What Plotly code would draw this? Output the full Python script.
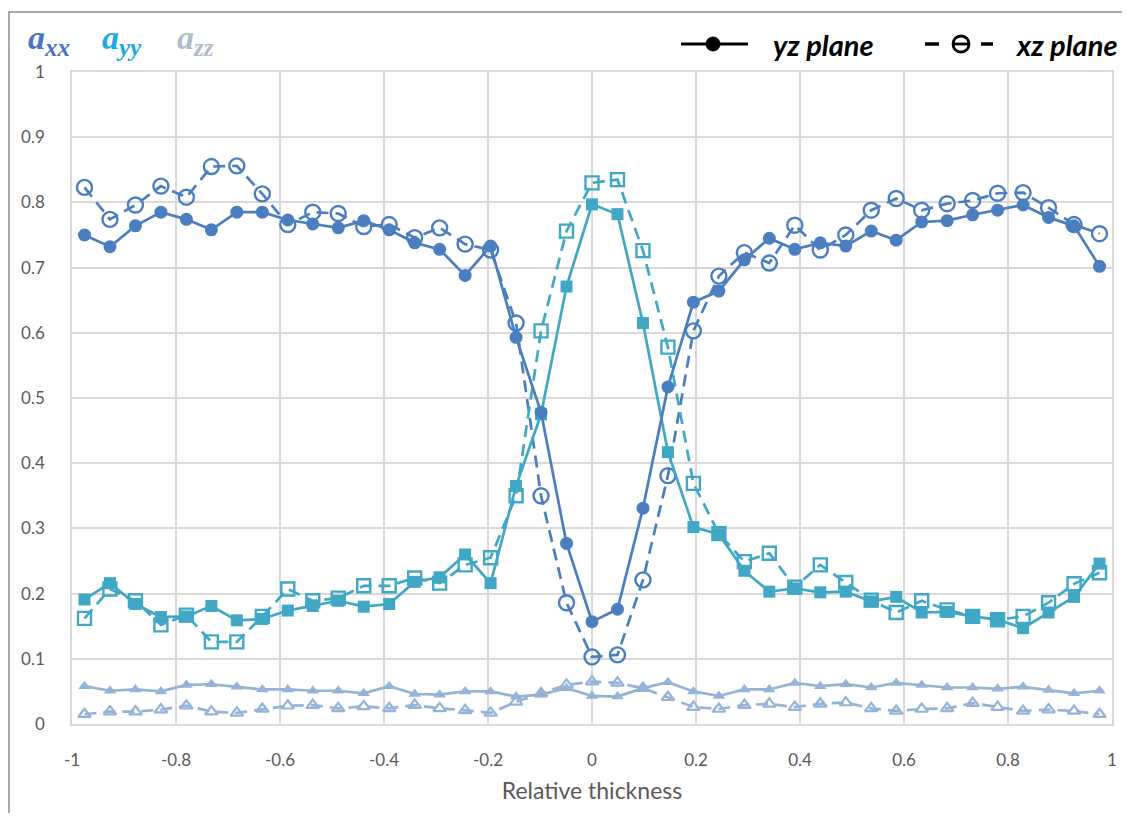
import plotly.graph_objects as go

# ---------------- data ----------------
x_pos = [-0.976, -0.927, -0.878, -0.829, -0.780, -0.732, -0.683, -0.634, -0.585, -0.537,
         -0.488, -0.439, -0.390, -0.341, -0.293, -0.244, -0.195, -0.146, -0.098, -0.049,
         0.0,
         0.049, 0.098, 0.146, 0.195, 0.244, 0.293, 0.341, 0.390, 0.439, 0.488,
         0.537, 0.585, 0.634, 0.683, 0.732, 0.780, 0.829, 0.878, 0.927, 0.976]

axx_yz = [0.750, 0.732, 0.764, 0.785, 0.774, 0.758, 0.785, 0.785, 0.773, 0.767,
          0.761, 0.772, 0.758, 0.738, 0.728, 0.688, 0.733, 0.593, 0.478, 0.277,
          0.157,
          0.176, 0.331, 0.517, 0.647, 0.664, 0.712, 0.745, 0.728, 0.738, 0.733,
          0.756, 0.742, 0.770, 0.772, 0.781, 0.788, 0.796, 0.777, 0.764, 0.702]
axx_xz = [0.823, 0.774, 0.796, 0.825, 0.808, 0.855, 0.856, 0.813, 0.766, 0.785,
          0.783, 0.763, 0.766, 0.746, 0.761, 0.736, 0.727, 0.615, 0.350, 0.186,
          0.103,
          0.106, 0.221, 0.381, 0.603, 0.687, 0.723, 0.707, 0.765, 0.727, 0.750,
          0.788, 0.806, 0.788, 0.798, 0.803, 0.814, 0.815, 0.792, 0.766, 0.752]
ayy_yz = [0.191, 0.216, 0.184, 0.164, 0.165, 0.181, 0.159, 0.161, 0.174, 0.181,
          0.189, 0.180, 0.184, 0.218, 0.225, 0.260, 0.216, 0.365, 0.475, 0.671,
          0.797,
          0.782, 0.615, 0.417, 0.302, 0.291, 0.235, 0.203, 0.208, 0.202, 0.203,
          0.188, 0.195, 0.171, 0.172, 0.165, 0.160, 0.147, 0.171, 0.195, 0.246]
ayy_xz = [0.162, 0.207, 0.189, 0.152, 0.167, 0.126, 0.126, 0.165, 0.207, 0.189,
          0.193, 0.212, 0.212, 0.224, 0.216, 0.244, 0.255, 0.350, 0.603, 0.756,
          0.830,
          0.835, 0.726, 0.578, 0.369, 0.292, 0.249, 0.262, 0.210, 0.244, 0.217,
          0.190, 0.171, 0.189, 0.175, 0.165, 0.160, 0.165, 0.186, 0.215, 0.232]
azz_yz = [0.058, 0.051, 0.053, 0.050, 0.060, 0.061, 0.057, 0.053, 0.053, 0.051,
          0.051, 0.047, 0.058, 0.046, 0.045, 0.050, 0.050, 0.042, 0.045, 0.055,
          0.043,
          0.042, 0.055, 0.064, 0.050, 0.043, 0.053, 0.053, 0.063, 0.058, 0.061,
          0.056, 0.063, 0.060, 0.056, 0.056, 0.054, 0.057, 0.052, 0.047, 0.051]
azz_xz = [0.015, 0.019, 0.019, 0.022, 0.028, 0.019, 0.017, 0.023, 0.028, 0.029,
          0.024, 0.027, 0.024, 0.029, 0.024, 0.021, 0.017, 0.034, 0.047, 0.060,
          0.065,
          0.063, 0.055, 0.041, 0.026, 0.023, 0.029, 0.031, 0.026, 0.031, 0.033,
          0.024, 0.020, 0.023, 0.024, 0.032, 0.026, 0.020, 0.022, 0.020, 0.015]

x_ticks = [-1, -0.8, -0.6, -0.4, -0.2, 0, 0.2, 0.4, 0.6, 0.8, 1]
y_ticks = [0, 0.1, 0.2, 0.3, 0.4, 0.5, 0.6, 0.7, 0.8, 0.9, 1]

# ---------------- style ----------------
C_XX = "#4a7ebf"
C_YY = "#40a8c4"
C_ZZ = "#95b3d7"
DASH = "12px,7px"
OFF = 8                      # page body margin
W, H = 1130 - OFF, 821 - 2 * OFF
L, R, T, B = 64, 18, 64, 89
PW, PH = W - L - R, H - T - B


def px(x):                    # screen px -> paper
    return (x - OFF - L) / PW


def py(y):
    return (H - B - (y - OFF)) / PH


fig = go.Figure()

series = [
    (axx_xz, C_XX, DASH, "circle-open", 15, 2.4),
    (ayy_xz, C_YY, DASH, "square-open", 13, 2.4),
    (azz_xz, C_ZZ, DASH, "triangle-up-open", 11, 2.2),
    (azz_yz, C_ZZ, "solid", "triangle-up", 11, 0),
    (ayy_yz, C_YY, "solid", "square", 12, 0),
    (axx_yz, C_XX, "solid", "circle", 13, 0),
]
for yv, col, dash, sym, size, mlw in series:
    fig.add_trace(go.Scatter(
        x=x_pos, y=yv, mode="lines+markers",
        line=dict(color=col, width=2.7, dash=dash),
        marker=dict(symbol=sym, size=size, color=col,
                    line=dict(color=col, width=mlw)),
        showlegend=False, cliponaxis=False,
    ))

tick_font = dict(family="Lato, Carlito, sans-serif", size=17, color="#595959")
fig.update_layout(
    width=W, height=H,
    margin=dict(l=L, r=R, t=T, b=B, pad=0),
    paper_bgcolor="white", plot_bgcolor="white",
    xaxis=dict(range=[-1, 1], tickvals=x_ticks, ticktext=[f"{v:g}" for v in x_ticks],
               showgrid=True, gridcolor="#d9d9d9", gridwidth=1.5,
               zeroline=False, showline=True, linecolor="#d9d9d9", linewidth=1.5,
               mirror=True, ticks="", tickfont=tick_font, ticklabelstandoff=20,
               title=dict(text="Relative thickness",
                          font=dict(family="Lato, Carlito, sans-serif", size=23, color="#595959"),
                          standoff=14)),
    yaxis=dict(range=[0, 1], tickvals=y_ticks, ticktext=[f"{v:g}" for v in y_ticks],
               showgrid=True, gridcolor="#d9d9d9", gridwidth=1.5,
               zeroline=False, showline=True, linecolor="#d9d9d9", linewidth=1.5,
               mirror=True, ticks="", tickfont=tick_font, ticklabelstandoff=22),
)

# outer frame
fig.add_shape(type="rect", xref="paper", yref="paper",
              x0=px(9), x1=px(1145), y0=py(845), y1=py(12),
              line=dict(color="#8c8c8c", width=1.5), fillcolor="rgba(0,0,0,0)", layer="below")

# component legend (top-left)
leg_font = "Liberation Serif, DejaVu Serif, serif"
for label, sub, col, cx in [("a", "xx", "#4a74c0", 26), ("a", "yy", "#1ea9e0", 100), ("a", "zz", "#b0bccb", 175)]:
    fig.add_annotation(xref="paper", yref="paper", x=px(cx), y=py(40),
                       xanchor="left", yanchor="middle", showarrow=False,
                       text=(f"<b><i>{label}</i></b><sub><span style='font-size:25px'>"
                             f"<b><i>{sub}</i></b></span></sub>"),
                       font=dict(family=leg_font, size=34, color=col))

# plane legend (top-right)
ly = 44
fig.add_shape(type="line", xref="paper", yref="paper", x0=px(681), x1=px(748), y0=py(ly), y1=py(ly),
              line=dict(color="black", width=3))
fig.add_shape(type="circle", xref="paper", yref="paper", xsizemode="pixel", ysizemode="pixel",
              xanchor=px(713), yanchor=py(ly), x0=-7, x1=7, y0=-7, y1=7,
              line=dict(color="black", width=1), fillcolor="black")
fig.add_annotation(xref="paper", yref="paper", x=px(771), y=py(ly), xanchor="left", yanchor="middle",
                   showarrow=False, text="<b><i>yz plane</i></b>",
                   font=dict(family="Lato, sans-serif", size=29, color="black"))
for xa, xb in [(925, 939), (981, 993)]:
    fig.add_shape(type="line", xref="paper", yref="paper", x0=px(xa), x1=px(xb), y0=py(ly), y1=py(ly),
                  line=dict(color="black", width=3.5))
fig.add_shape(type="circle", xref="paper", yref="paper", xsizemode="pixel", ysizemode="pixel",
              xanchor=px(961), yanchor=py(ly), x0=-8, x1=8, y0=-8, y1=8,
              line=dict(color="black", width=2.8), fillcolor="rgba(0,0,0,0)")
fig.add_shape(type="line", xref="paper", yref="paper", x0=px(953), x1=px(969), y0=py(ly), y1=py(ly),
              line=dict(color="black", width=2.8))
fig.add_annotation(xref="paper", yref="paper", x=px(1013), y=py(ly), xanchor="left", yanchor="middle",
                   showarrow=False, text="<b><i>xz plane</i></b>",
                   font=dict(family="Lato, sans-serif", size=29, color="black"))

fig.write_html("out.html")
